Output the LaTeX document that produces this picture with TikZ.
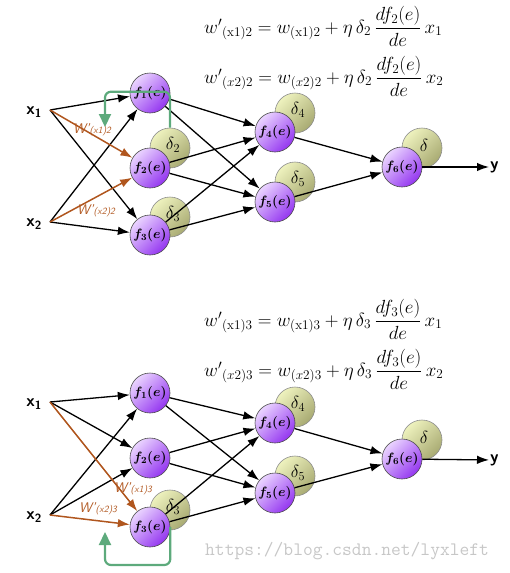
\RequirePackage{fix-cm}
\documentclass[tikz,border=0pt]{standalone}
\usepackage{amsmath}
\usetikzlibrary{arrows.meta,calc}
\definecolor{nlight}{HTML}{EAD4FF}
\definecolor{ndark}{HTML}{9436F0}
\definecolor{dlight}{HTML}{EEF2BE}
\definecolor{ddark}{HTML}{A8AA72}
\definecolor{wbrown}{HTML}{B0561E}
\definecolor{gback}{HTML}{5DAA7C}
\tikzset{
  neuron/.style={circle, minimum size=40pt, inner sep=0pt, draw=black!70, line width=0.6pt,
    top color=nlight, bottom color=ndark, shading angle=45, font=\fontsize{13.5}{15}\selectfont\boldmath},
  dcirc/.style={circle, minimum size=40pt, inner sep=0pt, draw=black!45, line width=0.6pt,
    top color=dlight, bottom color=ddark, shading angle=45},
  dtext/.style={inner sep=0pt, font=\fontsize{17.5}{20}\selectfont},
  inlabel/.style={font=\sffamily\bfseries\fontsize{17}{19}\selectfont, inner sep=1pt},
  edge/.style={-{Latex[length=12pt,width=8.5pt]}, line width=1.3pt, black},
  wedge/.style={-{Latex[length=12pt,width=8.5pt]}, line width=1.5pt, wbrown},
  wlabel/.style={text=wbrown, font=\sffamily\itshape\fontsize{14}{16}\selectfont, inner sep=0pt},
  back/.style={draw=gback, line width=2.2pt, rounded corners=6pt, -{Triangle[length=13pt,width=12pt]}},
  formula/.style={anchor=west, inner sep=0pt, font=\fontsize{19}{22}\selectfont},
}
\newcommand{\wsub}[1]{{\fontsize{9.5}{10}\selectfont #1}}
\begin{document}
\begin{tikzpicture}[x=1pt,y=-1pt]
\useasboundingbox (0,0) rectangle (509,573);

% ================= TOP =================
\node[formula] (eq1) at (204,26) {${w'}_{(\mathrm{x}1)2} = w_{(\mathrm{x}1)2} + \eta\,\delta_2\,\dfrac{df_2(e)}{de}\,x_1$};
\node[formula] (eq2) at (204,76) {${w'}_{(x2)2} = w_{(x2)2} + \eta\,\delta_2\,\dfrac{df_2(e)}{de}\,x_2$};

\coordinate (ax1) at (50,110);
\coordinate (ax2) at (50,222);
\node[inlabel, anchor=east] (lx1) at (43,112) {x$_{\textsf{1}}$};
\node[inlabel, anchor=east] (lx2) at (43,224) {x$_{\textsf{2}}$};

\node[dcirc] (ad2) at (170,148) {};
\node[dtext] (ad2t) at (173,145) {$\delta_2$};
\node[dcirc] (ad3) at (170,217) {};
\node[dtext] (ad3t) at (173,214) {$\delta_3$};
\node[dcirc] (ad4) at (295,113) {};
\node[dtext] (ad4t) at (298,110) {$\delta_4$};
\node[dcirc] (ad5) at (295,182) {};
\node[dtext] (ad5t) at (298,179) {$\delta_5$};
\node[dcirc] (ad6) at (422,148) {};
\node[dtext] (ad6t) at (424,145) {$\delta$};

\node[neuron] (af1) at (150,93) {$f_1(e)$};
\node[neuron] (af2) at (150,168) {$f_2(e)$};
\node[neuron] (af3) at (150,235) {$f_3(e)$};
\node[neuron] (af4) at (275,132) {$f_4(e)$};
\node[neuron] (af5) at (275,202) {$f_5(e)$};
\node[neuron] (af6) at (402,167) {$f_6(e)$};
\node[inlabel, anchor=west] (ay) at (489,167) {y};

\draw[edge] (ax1) -- (af1);
\draw[edge] (ax1) -- (af3);
\draw[edge] (ax2) -- (af1);
\draw[edge] (ax2) -- (af3);
\draw[wedge] (ax1) -- (af2);
\draw[wedge] (ax2) -- (af2);
\foreach \s in {af1,af2,af3}{
  \draw[edge] (\s) -- (af4);
  \draw[edge] (\s) -- (af5);
}
\draw[edge] (af4) -- (af6);
\draw[edge] (af5) -- (af6);
\draw[edge] (af6) -- (ay);

\node[wlabel] (aw1) at (92,130) {W'\wsub{(x1)2}};
\node[wlabel] (aw2) at (96,211) {W'\wsub{(x2)2}};

\coordinate (ag) at (105,127);
\draw[back] (ad2.north) -- ++(0,-36) -| (ag);

% ================= BOTTOM =================
\node[formula] (eq3) at (204,319) {${w'}_{(\mathrm{x}1)3} = w_{(\mathrm{x}1)3} + \eta\,\delta_3\,\dfrac{df_3(e)}{de}\,x_1$};
\node[formula] (eq4) at (204,369) {${w'}_{(x2)3} = w_{(x2)3} + \eta\,\delta_3\,\dfrac{df_3(e)}{de}\,x_2$};

\coordinate (bx1) at (50,402);
\coordinate (bx2) at (50,515);
\node[inlabel, anchor=east] (blx1) at (43,404) {x$_{\textsf{1}}$};
\node[inlabel, anchor=east] (blx2) at (43,517) {x$_{\textsf{2}}$};

\node[dcirc] (bd3) at (170,510) {};
\node[dtext] (bd3t) at (173,507) {$\delta_3$};
\node[dcirc] (bd4) at (295,407) {};
\node[dtext] (bd4t) at (298,404) {$\delta_4$};
\node[dcirc] (bd5) at (295,476) {};
\node[dtext] (bd5t) at (298,473) {$\delta_5$};
\node[dcirc] (bd6) at (422,440) {};
\node[dtext] (bd6t) at (424,437) {$\delta$};

\node[neuron] (bf1) at (150,393) {$f_1(e)$};
\node[neuron] (bf2) at (150,458) {$f_2(e)$};
\node[neuron] (bf3) at (150,527) {$f_3(e)$};
\node[neuron] (bf4) at (275,423) {$f_4(e)$};
\node[neuron] (bf5) at (275,493) {$f_5(e)$};
\node[neuron] (bf6) at (402,459) {$f_6(e)$};
\node[inlabel, anchor=west] (by) at (489,460) {y};

\draw[edge] (bx1) -- (bf1);
\draw[edge] (bx1) -- (bf2);
\draw[edge] (bx2) -- (bf1);
\draw[edge] (bx2) -- (bf2);
\draw[wedge] (bx1) -- (bf3);
\draw[wedge] (bx2) -- (bf3);
\foreach \s in {bf1,bf2,bf3}{
  \draw[edge] (\s) -- (bf4);
  \draw[edge] (\s) -- (bf5);
}
\draw[edge] (bf4) -- (bf6);
\draw[edge] (bf5) -- (bf6);
\draw[edge] (bf6) -- (by);

\node[wlabel] (bw1) at (133,489) {W'\wsub{(x1)3}};
\node[wlabel] (bw2) at (98,509) {W'\wsub{(x2)3}};

\coordinate (bg) at (105,532);
\draw[back] (bf3.east) -- ++(0,38) -| (bg);

\node[anchor=west, inner sep=0pt, text=black!22, font=\ttfamily\fontsize{19}{21}\selectfont] (wm) at (205,551) {https://blog.csdn.net/lyxleft};
\end{tikzpicture}
\end{document}
